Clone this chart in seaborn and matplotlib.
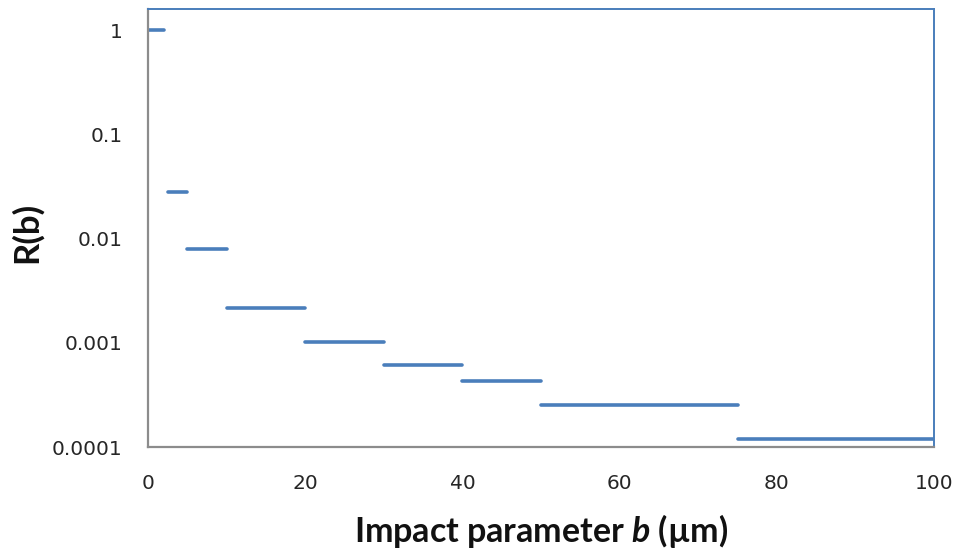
import matplotlib
matplotlib.use("Agg")
import matplotlib.pyplot as plt
import matplotlib.ticker as mticker
import numpy as np
import pandas as pd
import seaborn as sns

# Step-wise R(b): each bin of impact parameter has a constant value
bin_start = [0, 2.5, 5, 10, 20, 30, 40, 50, 75]
bin_end = [2, 5, 10, 20, 30, 40, 50, 75, 100]
r_value = [1.0, 0.0277, 0.0080, 0.00215, 0.00101, 0.00062, 0.000435, 0.000256, 0.000120]

y_ticks = [0.0001, 0.001, 0.01, 0.1, 1]
y_tick_labels = ["0.0001", "0.001", "0.01", "0.1", "1"]
x_ticks = [0, 20, 40, 60, 80, 100]

rows = []
for i, (b0, b1, r) in enumerate(zip(bin_start, bin_end, r_value)):
    rows.append({"bin": i, "b": b0, "R": r})
    rows.append({"bin": i, "b": b1, "R": r})
df = pd.DataFrame(rows)

sns.set_theme(style="white")
plt.rcParams["font.family"] = ["Lato", "DejaVu Sans"]
# bold-italic variable name inside the bold axis title
plt.rcParams["mathtext.fontset"] = "custom"
plt.rcParams["mathtext.it"] = "Lato:italic:bold"
plt.rcParams["mathtext.rm"] = "Lato:bold"

blue = "#4A7EBB"
grey = "#8C8C8C"

fig = plt.figure(figsize=(9.61, 5.52), dpi=100)
ax = fig.add_axes([0.154, 0.190, 0.818, 0.794])

sns.lineplot(data=df, x="b", y="R", units="bin", estimator=None,
             color=blue, linewidth=2.6, ax=ax, legend=False)

ax.set_yscale("log")
ax.set_ylim(1e-4, 1.6)
ax.set_xlim(0, 100)
ax.set_yticks(y_ticks)
ax.set_yticklabels(y_tick_labels)
ax.yaxis.set_minor_locator(mticker.NullLocator())
ax.set_xticks(x_ticks)

for side in ("left", "bottom"):
    ax.spines[side].set_color(grey)
    ax.spines[side].set_linewidth(1.6)
for side in ("top", "right"):
    ax.spines[side].set_color(blue)
    ax.spines[side].set_linewidth(1.4)

ax.tick_params(axis="both", which="major", direction="out", length=7.5,
               width=1.4, color=grey, labelsize=14.5, labelcolor="#262626")
ax.tick_params(axis="y", pad=11)
ax.tick_params(axis="x", pad=12)
for lab in ax.get_xticklabels() + ax.get_yticklabels():
    lab.set_fontfamily(["DejaVu Sans"])

ax.set_xlabel("Impact parameter $\\it{b}$ (µm)", fontsize=24.5, fontweight="bold",
              color="#111111")
ax.xaxis.set_label_coords(0.5, -0.192)
ax.xaxis.label.set_va("center")
ax.set_ylabel("R(b)", fontsize=25, fontweight="bold", color="#111111")
ax.yaxis.set_label_coords(-0.154, 0.49)
ax.yaxis.label.set_va("center")

fig.savefig("out.png", dpi=100)
